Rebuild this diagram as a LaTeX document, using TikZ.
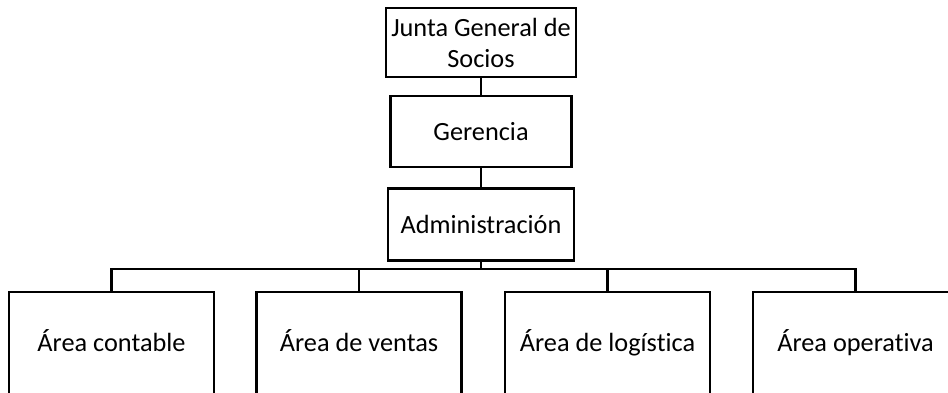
\documentclass[tikz,border=0pt]{standalone}
\usepackage{fontspec}
\setmainfont{Carlito}[Ligatures=NoCommon]
\usetikzlibrary{positioning}

\begin{document}
\begin{tikzpicture}[x=1pt,y=-1pt,
	box/.style={draw,line width=2.4pt,minimum width=186pt,minimum height=70pt,inner sep=0pt,align=center,font=\fontsize{26.3}{31}\selectfont},
	area/.style={box,minimum width=205pt,minimum height=102pt,text height=23pt,text depth=6pt}]
	\useasboundingbox (0,0) rectangle (948,392);
	\clip (0,0) rectangle (948,392);
	\node[box,minimum width=190pt,minimum height=69pt] (junta) at (481,42.5) {Junta General de\\Socios};
	\node[box,minimum width=181pt,minimum height=71pt] (gerencia) at (481,131.5) {Gerencia};
	\node[box,minimum height=72pt] (admin) at (481,224.5) {Administración};
	\node[area] (contable) at (111.5,343) {Área contable};
	\node[area] (ventas) at (359,343) {Área de ventas};
	\node[area] (logistica) at (607.5,343) {Área de logística};
	\node[area] (operativa) at (855.5,343) {Área operativa};
	\coordinate (bus) at (481,269);
	\draw[line width=2.4pt] (junta) -- (gerencia);
	\draw[line width=2.4pt] (gerencia) -- (admin);
	\draw[line width=2.4pt] (admin) -- (bus);
	\draw[line width=2.4pt] (contable.north) |- (bus) -| (operativa.north);
	\foreach \n in {ventas,logistica}
		\draw[line width=2.4pt] (\n.north) -- (\n.north |- bus);
\end{tikzpicture}
\end{document}
